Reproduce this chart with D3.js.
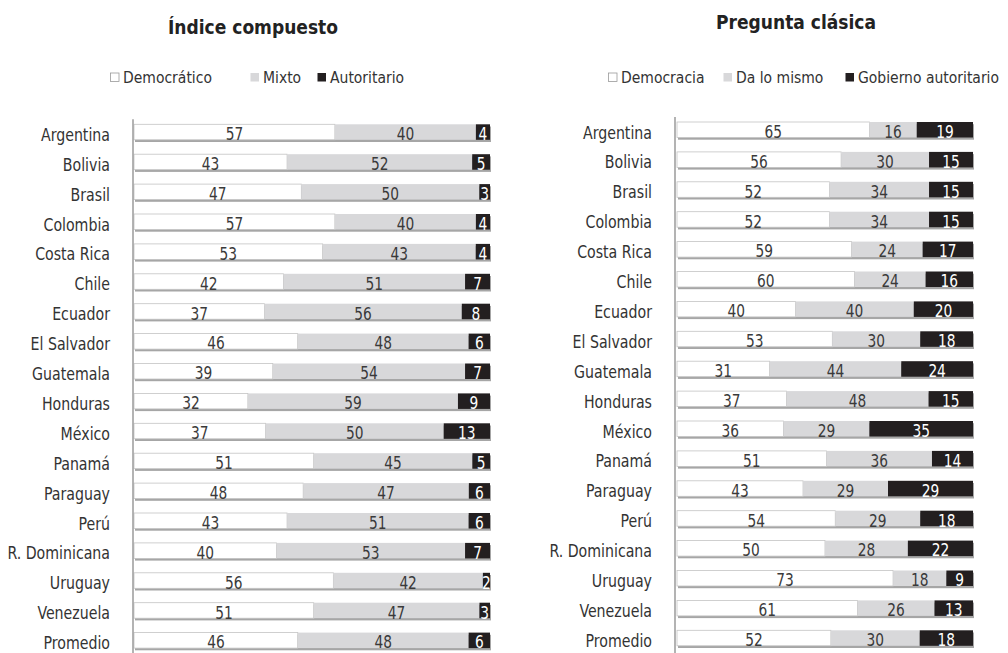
<!DOCTYPE html>
<html>
<head>
<meta charset="utf-8">
<script src="https://cdn.jsdelivr.net/npm/d3@7"></script>
<style>
  body { margin: 0; background: #fff; }
  svg text { font-family: "DejaVu Sans Condensed", "DejaVu Sans", sans-serif; font-stretch: condensed; }
</style>
</head>
<body>
<div id="canvas"></div>
<script>
// ---- DATA ----
var countries = ['Argentina','Bolivia','Brasil','Colombia','Costa Rica','Chile','Ecuador','El Salvador',
    'Guatemala','Honduras','México','Panamá','Paraguay','Perú','R. Dominicana','Uruguay','Venezuela','Promedio'];

// Índice compuesto
var indiceDemocratico = [57,43,47,57,53,42,37,46,39,32,37,51,48,43,40,56,51,46];
var indiceMixto       = [40,52,50,40,43,51,56,48,54,59,50,45,47,51,53,42,47,48];
var indiceAutoritario = [4,5,3,4,4,7,8,6,7,9,13,5,6,6,7,2,3,6];

// Pregunta clásica
var preguntaDemocracia  = [65,56,52,52,59,60,40,53,31,37,36,51,43,54,50,73,61,52];
var preguntaDaLoMismo   = [16,30,34,34,24,24,40,30,44,48,29,36,29,29,28,18,26,30];
var preguntaAutoritario = [19,15,15,15,17,16,20,18,24,15,35,14,29,18,22,9,13,18];

var indiceLegend = ['Democrático','Mixto','Autoritario'];
var preguntaLegend = ['Democracia','Da lo mismo','Gobierno autoritario'];

// ---- CONVENTIONS ----
var width = 1008, height = 653;
var keys = ['a','b','c'];
var fills = ['#ffffff','#d8d8da','#231f20'];
var textFills = ['#3a3a3a','#3a3a3a','#ffffff'];
var step = 29.9, barH = 15.5;

var svg = d3.select('#canvas')
    .append('svg')
    .attr('width', width)
    .attr('height', height);

svg.append('defs').append('filter').attr('id','blur')
    .append('feGaussianBlur').attr('stdDeviation', 0.7);

function rows(a, b, c){
    return countries.map(function(d, i){
        return {country: d, a: a[i], b: b[i], c: c[i]};
    });
}

// squeezed text, the original uses a tall condensed face
function squeeze(sel, x, y, sx){
    return sel.attr('transform', function(d, i){
        return 'translate(' + x(d, i) + ',' + y(d, i) + ') scale(' + sx + ',1)';
    });
}

var panels = [
    {title: 'Índice compuesto', titleX: 253, titleY: 34, legend: indiceLegend,
     legendX: [110, 250, 317], legendY: 77,
     data: rows(indiceDemocratico, indiceMixto, indiceAutoritario),
     x0: 134, x1: 490, top: 124.3, labelX: 110, axisX: 133},
    {title: 'Pregunta clásica', titleX: 796, titleY: 29, legend: preguntaLegend,
     legendX: [608, 723, 845], legendY: 77,
     data: rows(preguntaDemocracia, preguntaDaLoMismo, preguntaAutoritario),
     x0: 677, x1: 973, top: 122, labelX: 652, axisX: 675}
];

panels.forEach(drawPanel);

function drawPanel(p){
    var g = svg.append('g');

    // title
    g.append('text')
        .attr('x', p.titleX).attr('y', p.titleY)
        .attr('text-anchor', 'middle')
        .style('font-size', '19px')
        .style('font-weight', 'bold')
        .style('fill', '#222')
        .text(p.title);

    // legend
    var leg = g.selectAll('.legend')
        .data(p.legend)
        .enter().append('g')
        .attr('transform', function(d, i){ return 'translate(' + p.legendX[i] + ',' + p.legendY + ')'; });
    leg.append('rect')
        .attr('x', 0.5).attr('y', -4)
        .attr('width', 8.5).attr('height', 8.5)
        .style('fill', function(d, i){ return fills[i]; })
        .style('stroke', function(d, i){ return i === 0 ? '#999' : 'none'; })
        .style('stroke-width', 0.8);
    leg.append('text')
        .attr('x', 13).attr('y', 6)
        .style('font-size', '15.5px')
        .style('fill', '#333')
        .text(function(d){ return d; });

    // scales
    var scaleX = d3.scaleLinear().domain([0, 1]).range([p.x0, p.x1]);
    var scaleY = d3.scaleBand()
        .domain(countries)
        .range([p.top, p.top + 17 * step + barH])
        .paddingInner(1 - barH / step)
        .paddingOuter(0);

    var series = d3.stack().keys(keys).offset(d3.stackOffsetExpand)(p.data);

    // shadows
    g.selectAll('.shadow')
        .data(p.data)
        .enter().append('rect')
        .attr('x', p.x0 + 1)
        .attr('y', function(d){ return scaleY(d.country) + 2.2; })
        .attr('width', p.x1 - p.x0)
        .attr('height', scaleY.bandwidth())
        .style('fill', '#a6a6a6')
        .attr('filter', 'url(#blur)');

    // bars
    var layer = g.selectAll('.layer')
        .data(series)
        .enter().append('g')
        .attr('class', 'layer');

    layer.selectAll('rect')
        .data(function(s){ return s.map(function(d){ return {s: s.index, v: d}; }); })
        .enter().append('rect')
        .attr('x', function(d){ return scaleX(d.v[0]); })
        .attr('y', function(d){ return scaleY(d.v.data.country); })
        .attr('width', function(d){ return scaleX(d.v[1]) - scaleX(d.v[0]); })
        .attr('height', scaleY.bandwidth())
        .style('fill', function(d){ return fills[d.s]; })
        .style('stroke', function(d){ return d.s === 0 ? '#c4c4c4' : 'none'; })
        .style('stroke-width', 0.8);

    layer.selectAll('text')
        .data(function(s){ return s.map(function(d){ return {s: s.index, v: d, key: s.key}; }); })
        .enter().append('text')
        .call(squeeze,
            function(d){ return (scaleX(d.v[0]) + scaleX(d.v[1])) / 2; },
            function(d){ return scaleY(d.v.data.country) + 15.8; }, 0.85)
        .attr('text-anchor', 'middle')
        .style('font-size', '18px')
        .style('fill', function(d){ return textFills[d.s]; })
        .text(function(d){ return d.v.data[d.key]; });

    // axis line
    g.append('line')
        .attr('x1', p.axisX).attr('x2', p.axisX)
        .attr('y1', p.top - 5).attr('y2', height)
        .style('stroke', '#a0a0a0')
        .style('stroke-width', 1.6);

    // country labels
    g.selectAll('.country')
        .data(countries)
        .enter().append('text')
        .call(squeeze,
            function(){ return p.labelX; },
            function(d){ return scaleY(d) + 16.5; }, 0.9)
        .attr('text-anchor', 'end')
        .style('font-size', '17.5px')
        .style('fill', '#333')
        .text(function(d){ return d; });
}
</script>
</body>
</html>
